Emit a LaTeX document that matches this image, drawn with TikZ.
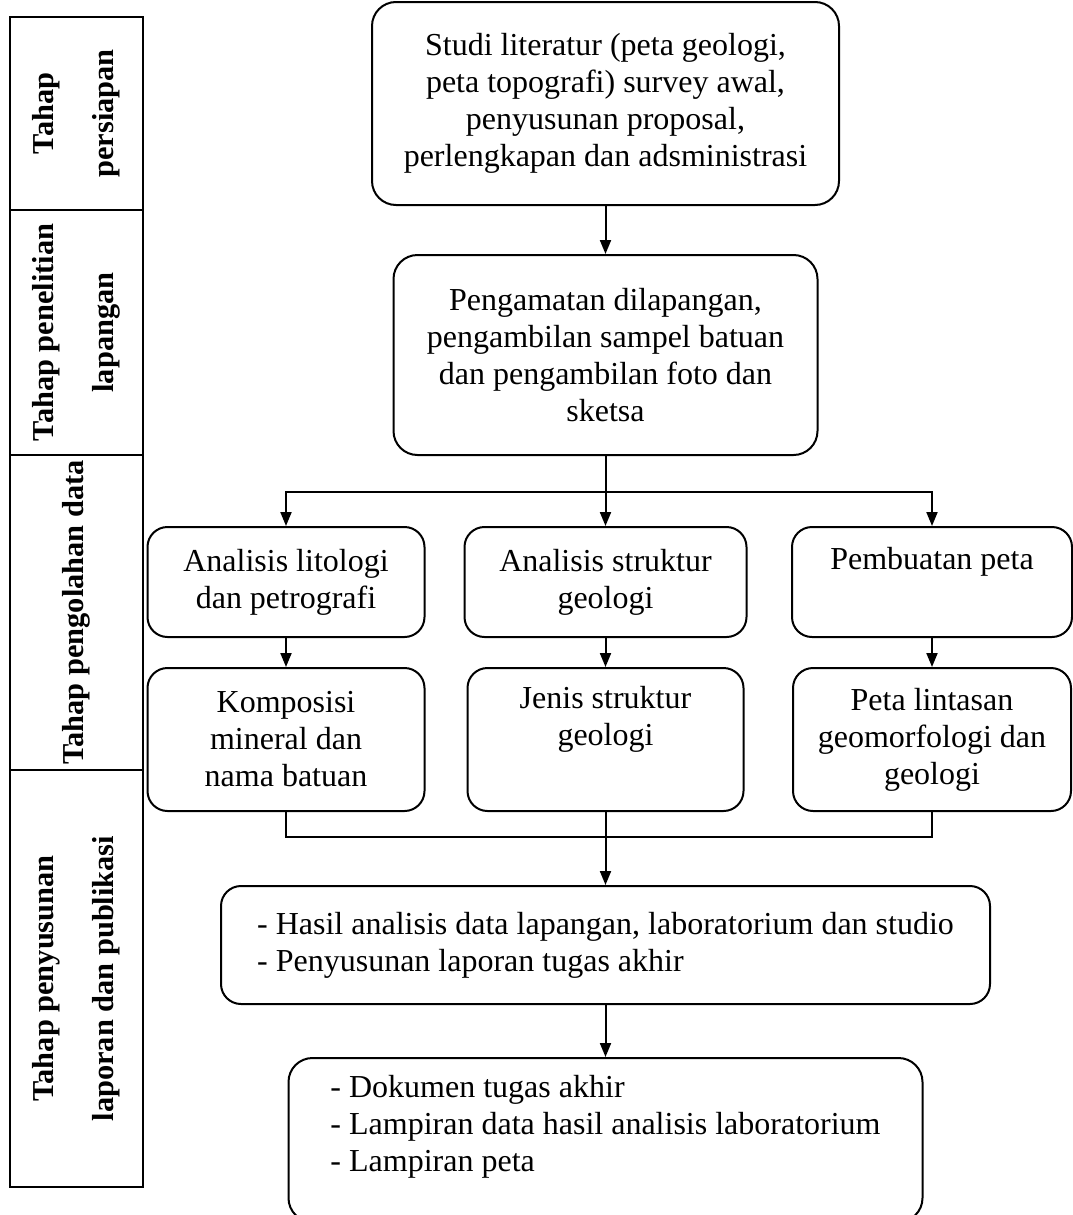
\documentclass[tikz,border=0pt]{standalone}
\usepackage{fontspec}
\setmainfont{Liberation Serif}
\usepackage{tikz}
\usetikzlibrary{arrows.meta, positioning}
\tikzstyle{process} = [rectangle, rounded corners=10pt, draw=black, line width=1pt, align=center, inner sep=0pt, font=\fontsize{16}{18.5}\selectfont]
\tikzstyle{listbox} = [process, align=left]
\tikzstyle{stage} = [rectangle, draw=black, line width=1pt, align=center, rotate=90, inner sep=0pt, minimum height=66.5pt, font=\bfseries\fontsize{15.2}{30}\selectfont]
\tikzstyle{link} = [line width=1pt]
\tikzstyle{arrow} = [line width=1pt, -{Triangle[length=7pt,width=5.5pt]}]

\begin{document}
\begin{tikzpicture}[node distance=1cm]
	\useasboundingbox (0,0) rectangle (536pt,-607.5pt);

	% stages on the left
	\node (persiapan) [stage, minimum width=96.5pt] at (38.25pt,-56.75pt) {Tahap\\persiapan};
	\node (penelitian) [stage, minimum width=122.5pt] at (38.25pt,-166.25pt) {Tahap penelitian\\lapangan};
	\node (pengolahan) [stage, minimum width=157.5pt] at (38.25pt,-306.25pt) {Tahap pengolahan data};
	\node (penyusunan) [stage, minimum width=208.5pt] at (38.25pt,-489.25pt) {Tahap penyusunan\\laporan dan publikasi};

	% flow
	\node (studi) [process, rounded corners=12pt, minimum width=233.5pt, minimum height=101.5pt] at (302.75pt,-51.75pt) {Studi literatur (peta geologi,\\peta topografi) survey awal,\\penyusunan proposal,\\perlengkapan dan adsministrasi};
	\node (amat) [process, rounded corners=12pt, below=24pt of studi, minimum width=212pt, minimum height=100pt] {Pengamatan dilapangan,\\pengambilan sampel batuan\\dan pengambilan foto dan\\sketsa};
	\coordinate [below=18pt of amat] (branch);
	\node (struktur) [process, below=35pt of amat, minimum width=141pt, minimum height=55pt] {Analisis struktur\\geologi};
	\node (lito) [process, left=19pt of struktur, minimum width=138.5pt, minimum height=55pt] {Analisis litologi\\dan petrografi};
	\node (peta) [process, right=21.75pt of struktur, minimum width=140pt, minimum height=55pt] {Pembuatan peta\\\strut};
	\node (jenis) [process, below=14.5pt of struktur, minimum width=138pt, minimum height=71.5pt] {Jenis struktur\\geologi\\\strut};
	\node (komposisi) [process, below=14.5pt of lito, minimum width=138.5pt, minimum height=71.5pt] {Komposisi\\mineral dan\\nama batuan};
	\node (lintasan) [process, below=14.5pt of peta, minimum width=139pt, minimum height=71.5pt] {Peta lintasan\\geomorfologi dan\\geologi};
	\coordinate [below=12.5pt of jenis] (join);
	\node (hasil) [listbox, below=36.5pt of jenis, minimum width=384.5pt, minimum height=59pt] {- Hasil analisis data lapangan, laboratorium dan studio\\- Penyusunan laporan tugas akhir};
	\node (dokumen) [listbox, rounded corners=12pt, below=26pt of hasil, minimum width=317pt, minimum height=82pt] {- Dokumen tugas akhir\\- Lampiran data hasil analisis laboratorium\\- Lampiran peta\\[-7pt]\strut};

	\draw [arrow] (studi) -- (amat);
	\draw [link] (amat) -- (branch);
	\draw [arrow] (branch) -| (lito);
	\draw [arrow] (branch) -- (struktur);
	\draw [arrow] (branch) -| (peta);
	\draw [arrow] (lito) -- (komposisi);
	\draw [arrow] (struktur) -- (jenis);
	\draw [arrow] (peta) -- (lintasan);
	\draw [link] (komposisi) |- (join) -| (lintasan);
	\draw [arrow] (jenis) -- (hasil);
	\draw [arrow] (hasil) -- (dokumen);
\end{tikzpicture}
\end{document}
